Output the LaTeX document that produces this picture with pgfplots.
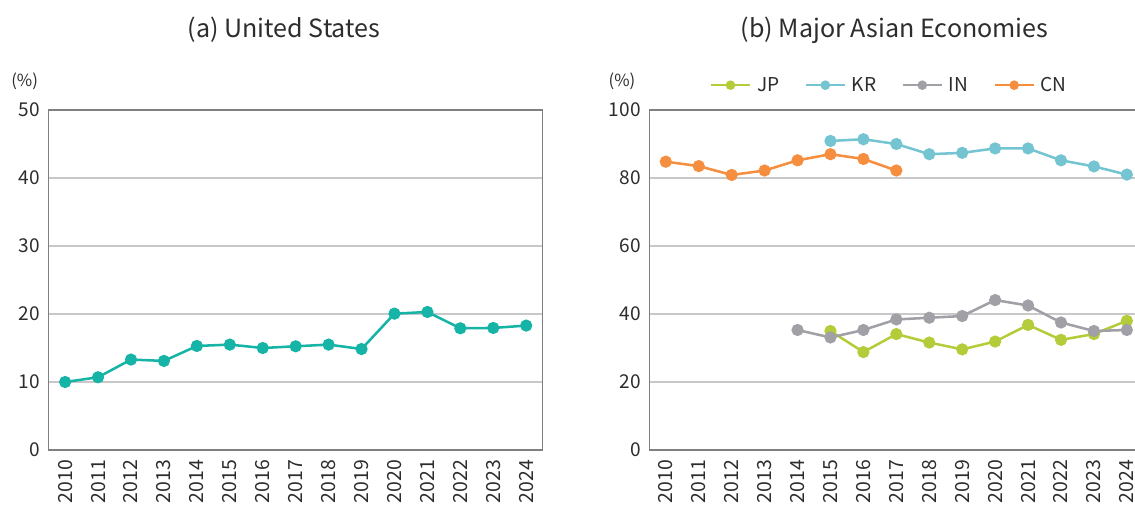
\documentclass[border=0pt]{standalone}
\usepackage{fontspec}
\setmainfont{Noto Sans CJK KR}
\usepackage{pgfplots}
\pgfplotsset{compat=1.18}
\definecolor{ustc}{RGB}{22,180,166}
\definecolor{jpc}{RGB}{181,204,58}
\definecolor{krc}{RGB}{116,196,210}
\definecolor{inc}{RGB}{160,160,166}
\definecolor{cnc}{RGB}{245,142,62}
\definecolor{gridc}{RGB}{200,200,200}
\definecolor{framec}{RGB}{128,128,128}
\definecolor{txtc}{RGB}{45,45,45}
\pgfplotsset{
  base/.style={
    scale only axis, width=370.5pt, height=255pt,
    xmin=2009.5, xmax=2024.5, xtick={2010,2011,...,2024},
    /pgf/number format/assume math mode=true,
    /pgf/number format/1000 sep={},
    xticklabel style={rotate=90, anchor=east, font=\fontsize{14.6}{14.6}\selectfont, text=txtc},
    yticklabel style={font=\fontsize{14.3}{14.3}\selectfont, text=txtc},
    xticklabel shift=4pt, yticklabel shift=3pt,
    ymajorgrids, major grid style={gridc, line width=0.8pt},
    axis line style={framec, line width=1pt},
    major tick length=0pt, tick style={draw=none},
    every axis plot/.append style={line width=1.9pt, mark=*, mark size=3.6pt},
    clip=false,
  }
}
\begin{document}
\begin{tikzpicture}
\begin{axis}[base, at={(36.5pt,46.5pt)}, anchor=south west,
  ymin=0, ymax=50, ytick={0,10,...,50}]
\addplot[ustc, mark options={fill=ustc, draw=ustc}] coordinates {
 (2010,10.0) (2011,10.7) (2012,13.3) (2013,13.1) (2014,15.3) (2015,15.5)
 (2016,15.0) (2017,15.25) (2018,15.5) (2019,14.85) (2020,20.05) (2021,20.3)
 (2022,17.9) (2023,17.95) (2024,18.3)};
\end{axis}
\begin{axis}[base, at={(487pt,46.5pt)}, anchor=south west,
  ymin=0, ymax=100, ytick={0,20,...,100},
  legend columns=4,
  legend style={at={(0.114,1.073)}, anchor=west, draw=none, fill=none,
    font=\fontsize{14.3}{14.3}\selectfont, text=txtc,
    /tikz/every odd column/.append style={column sep=2.5pt},
    /tikz/every even column/.append style={column sep=17pt}},
  legend image code/.code={\draw[#1, mark repeat=2, mark phase=2, mark size=2.6pt, line width=1.9pt]
     plot coordinates {(0pt,0pt) (14.5pt,0pt) (29pt,0pt)};}]
\addplot[jpc, mark options={fill=jpc, draw=jpc}] coordinates {
 (2015,35.0) (2016,28.8) (2017,34.1) (2018,31.6) (2019,29.6) (2020,31.9)
 (2021,36.8) (2022,32.4) (2023,34.1) (2024,38.0)};
\addlegendentry{JP}
\addplot[krc, mark options={fill=krc, draw=krc}] coordinates {
 (2015,90.9) (2016,91.4) (2017,90.0) (2018,87.0) (2019,87.4) (2020,88.7)
 (2021,88.7) (2022,85.2) (2023,83.4) (2024,81.0)};
\addlegendentry{KR}
\addplot[inc, mark options={fill=inc, draw=inc}] coordinates {
 (2014,35.3) (2015,33.1) (2016,35.3) (2017,38.4) (2018,38.9) (2019,39.4)
 (2020,44.1) (2021,42.5) (2022,37.5) (2023,35.0) (2024,35.3)};
\addlegendentry{IN}
\addplot[cnc, mark options={fill=cnc, draw=cnc}] coordinates {
 (2010,84.8) (2011,83.5) (2012,80.9) (2013,82.2) (2014,85.2) (2015,87.0)
 (2016,85.6) (2017,82.2)};
\addlegendentry{CN}
\end{axis}
\node[text=txtc, font=\fontsize{18.8}{18.8}\selectfont] at (213pt,361.5pt) {(a) United States};
\node[text=txtc, font=\fontsize{18.8}{18.8}\selectfont] at (671pt,361.5pt) {(b) Major Asian Economies};
\node[text=txtc, font=\fontsize{12.5}{12.5}\selectfont] at (18.5pt,323pt) {(\%)};
\node[text=txtc, font=\fontsize{12.5}{12.5}\selectfont] at (466.5pt,323pt) {(\%)};
\pgfresetboundingbox
\path[use as bounding box] (0,0) rectangle (851.25pt,384pt);
\end{tikzpicture}
\end{document}
